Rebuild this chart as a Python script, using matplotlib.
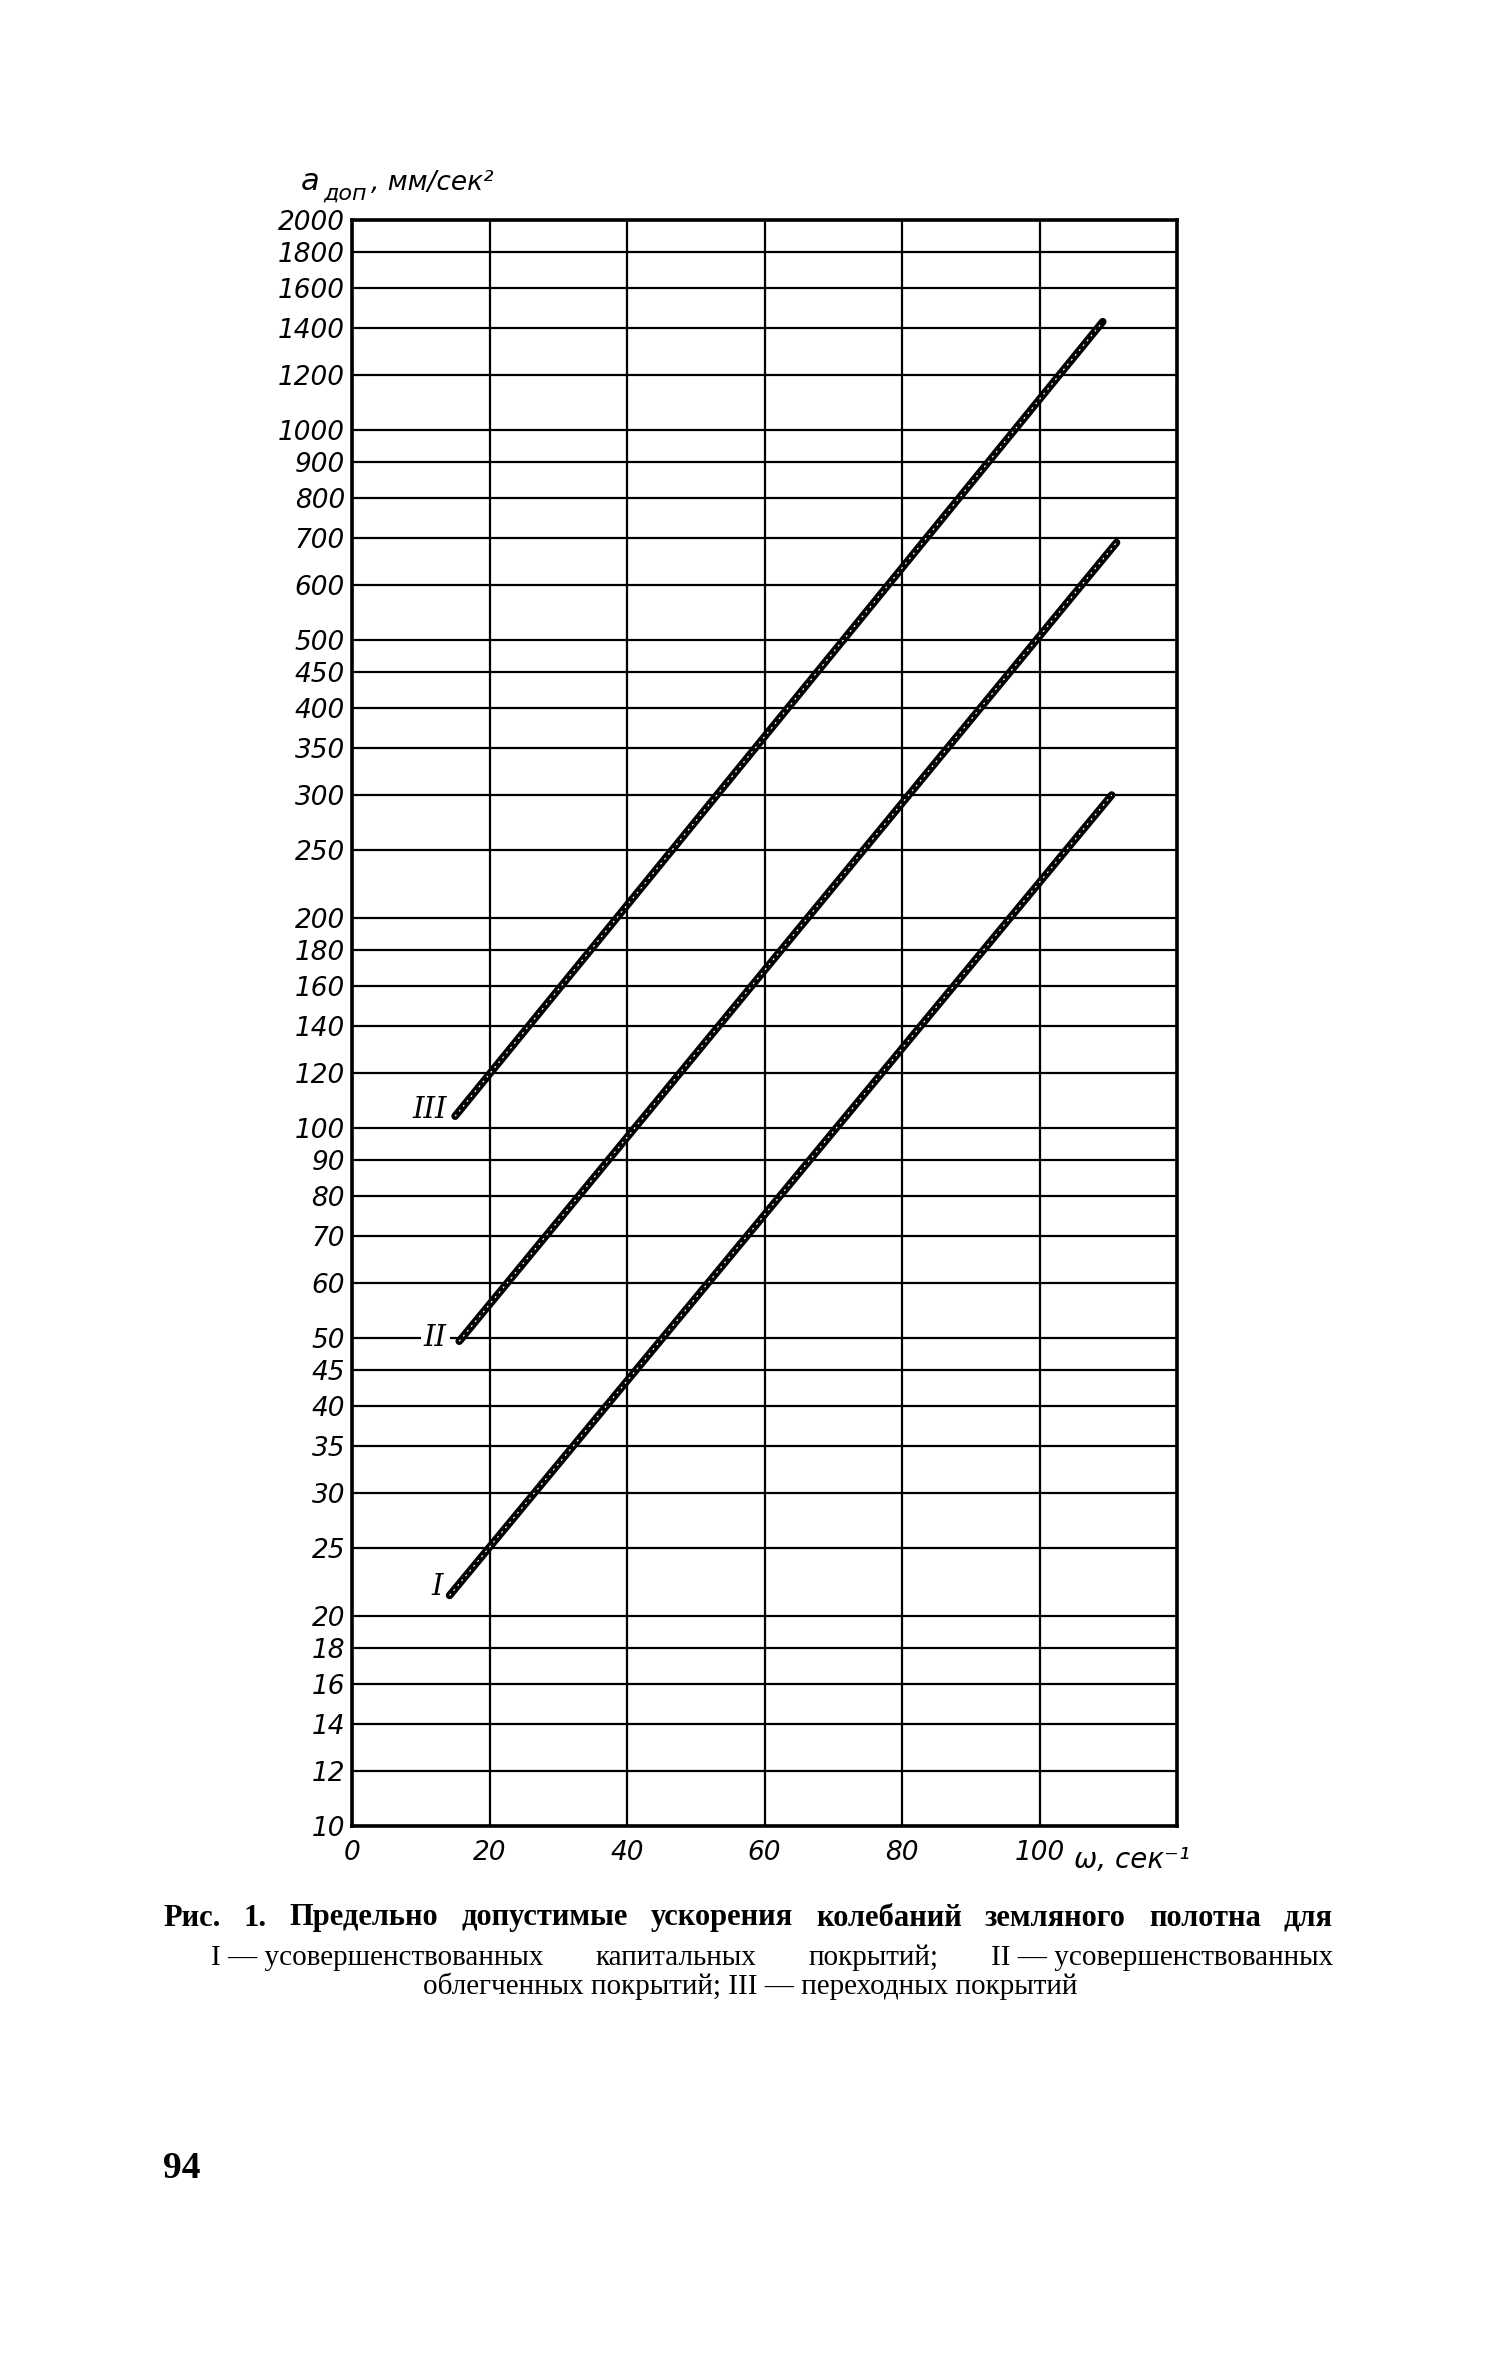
import matplotlib
matplotlib.use('Agg')
import matplotlib.pyplot as plt
from matplotlib.ticker import NullLocator

# ── Data ───────────────────────────────────────────────────────
a_ticks = [10, 12, 14, 16, 18, 20, 25, 30, 35, 40, 45, 50, 60, 70, 80, 90, 100,
           120, 140, 160, 180, 200, 250, 300, 350, 400, 450, 500, 600, 700,
           800, 900, 1000, 1200, 1400, 1600, 1800, 2000]
w_ticks = [0, 20, 40, 60, 80, 100, 120]
w_labels = ['0', '20', '40', '60', '80', '100', '']

# curves: omega, 1/s  ->  a_доп, mm/s^2 (straight in semi-log)
omega_I = [14.2, 110.5]
a_I = [21.4, 300]
omega_II = [15.6, 111.2]
a_II = [49.5, 690]
omega_III = [15.0, 109.2]
a_III = [104, 1430]

curve_names = ['I', 'II', 'III']
name_omega = [12.4, 12.1, 11.3]
name_a = [22, 50, 106]

caption_1 = 'Рис. 1. Предельно допустимые ускорения колебаний земляного полотна для'
caption_2 = ['I — усовершенствованных', 'капитальных', 'покрытий;',
             'II — усовершенствованных']
caption_3 = 'облегченных покрытий; III — переходных покрытий'
page_no = '94'

# ── Figure ─────────────────────────────────────────────────────
W, H = 1501, 2361
fig = plt.figure(figsize=(W / 100, H / 100), dpi=100, facecolor='white')
ax = fig.add_axes([352 / W, 1 - 1826 / H, 825 / W, 1606 / H])

ax.set_yscale('log')
ax.set_xlim(0, 120)
ax.set_ylim(10, 2000)
ax.set_yticks(a_ticks, labels=[str(v) for v in a_ticks])
ax.yaxis.set_minor_locator(NullLocator())
ax.set_xticks(w_ticks, labels=w_labels)
ax.tick_params(length=0, labelsize=19)
ax.tick_params(axis='y', pad=5)
ax.tick_params(axis='x', pad=10)
for lbl in ax.get_yticklabels() + ax.get_xticklabels():
    lbl.set_fontstyle('italic')
ax.grid(True, color='black', lw=1.6)
for sp in ax.spines.values():
    sp.set_linewidth(2.6)

# curves: thick black stroke with white flecks
for om, a in [(omega_I, a_I), (omega_II, a_II), (omega_III, a_III)]:
    ax.plot(om, a, color='black', lw=5.5, solid_capstyle='round', zorder=3)
    ax.plot(om, a, color='white', lw=0.9, ls=(0, (1.5, 3.5)), zorder=4)

for name, x, y in zip(curve_names, name_omega, name_a):
    bb = dict(fc='white', ec='none', pad=2) if name == 'II' else None
    ax.text(x, y, name, family='DejaVu Serif', fontsize=21, style='italic',
            ha='center', va='center', bbox=bb, zorder=5)

# axis titles
fig.text(301 / W, 1 - 190 / H, 'a', fontsize=22, style='italic', va='baseline')
fig.text(323 / W, 1 - 200 / H, 'доп', fontsize=16, style='italic', va='baseline')
fig.text(371 / W, 1 - 190 / H, ', мм/сек²', fontsize=19, style='italic',
         va='baseline')
ax.text(105, -0.026, 'ω, сек⁻¹', transform=ax.get_xaxis_transform(),
        fontsize=20, style='italic', ha='left', va='baseline')

# ── Caption ────────────────────────────────────────────────────
def justify(words, x0, x1, y, **kw):
    r = fig.canvas.get_renderer()
    texts = [fig.text(0, 1 - y / H, w, va='center', **kw) for w in words]
    widths = [t.get_window_extent(r).width for t in texts]
    gap = ((x1 - x0) - sum(widths)) / (len(words) - 1)
    x = x0
    for t, w in zip(texts, widths):
        t.set_x(x / W)
        x += w + gap

serif = 'Liberation Serif'
justify(caption_1.split(), 163, 1333, 1918, family=serif, fontsize=22,
        weight='bold')
justify(caption_2, 211, 1333, 1958, family=serif, fontsize=21)
fig.text(750 / W, 1 - 1986 / H, caption_3, family=serif, fontsize=21,
         ha='center', va='center')

fig.text(163 / W, 1 - 2168 / H, page_no, family=serif, fontsize=27,
         weight='bold', va='center')

fig.savefig('out.png', dpi=100, facecolor='white')
